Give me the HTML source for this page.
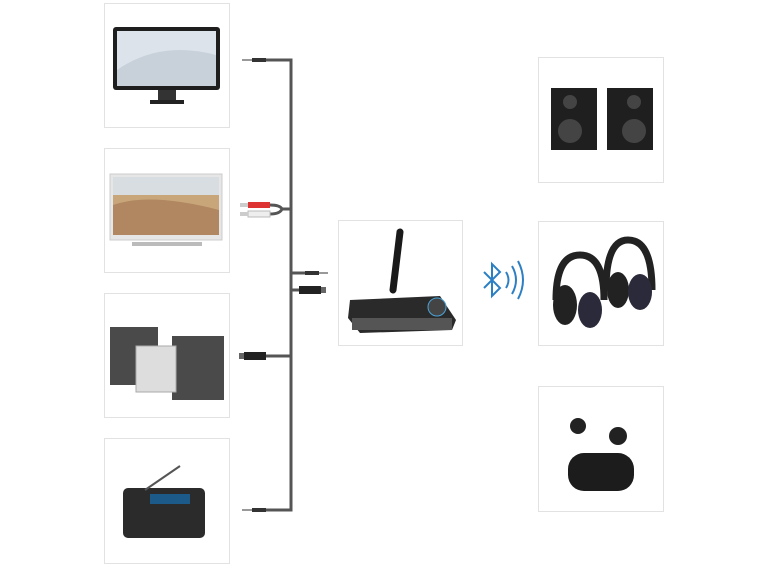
<!DOCTYPE html>
<html><head><meta charset="utf-8"><style>
html,body{margin:0;padding:0;background:#fff;width:765px;height:574px;overflow:hidden}
</style></head><body>
<svg width="765" height="574" viewBox="0 0 765 574" xmlns="http://www.w3.org/2000/svg">
<g fill="#fff" stroke="#e2e2e2" stroke-width="1">
<rect x="104.5" y="3.5" width="125" height="124"/>
<rect x="104.5" y="148.5" width="125" height="124"/>
<rect x="104.5" y="293.5" width="125" height="124"/>
<rect x="104.5" y="438.5" width="125" height="125"/>
<rect x="338.5" y="220.5" width="124" height="125"/>
<rect x="538.5" y="57.5" width="125" height="125"/>
<rect x="538.5" y="221.5" width="125" height="124"/>
<rect x="538.5" y="386.5" width="125" height="125"/>
</g>
<!-- monitor -->
<rect x="113" y="27" width="107" height="63" rx="3" fill="#1e1e1e"/>
<rect x="117" y="31" width="99" height="55" fill="#dde3ea"/>
<path d="M117 70 Q160 40 216 55 L216 86 L117 86Z" fill="#c8d0da"/>
<rect x="158" y="90" width="18" height="10" fill="#333"/>
<rect x="150" y="100" width="34" height="4" fill="#222"/>
<!-- TV -->
<rect x="110" y="174" width="112" height="66" fill="#e6e6e6" stroke="#ccc"/>
<rect x="113" y="177" width="106" height="58" fill="#c9a57a"/>
<rect x="113" y="177" width="106" height="18" fill="#d8dde2"/>
<path d="M113 205 Q150 192 219 210 L219 235 L113 235Z" fill="#b08760"/>
<rect x="132" y="242" width="70" height="4" fill="#bbb"/>
<!-- stereo -->
<rect x="110" y="327" width="48" height="58" fill="#4a4a4a"/>
<rect x="172" y="336" width="52" height="64" fill="#4a4a4a"/>
<rect x="136" y="346" width="40" height="46" fill="#ddd" stroke="#aaa"/>
<!-- radio -->
<rect x="123" y="488" width="82" height="50" rx="5" fill="#2b2b2b"/>
<rect x="150" y="494" width="40" height="10" fill="#1c5a8a"/>
<line x1="145" y1="490" x2="180" y2="466" stroke="#555" stroke-width="2"/>
<!-- transmitter -->
<line x1="393" y1="290" x2="400" y2="232" stroke="#1a1a1a" stroke-width="7" stroke-linecap="round"/>
<path d="M350 300 L440 296 L456 320 L452 330 L360 333 L348 318Z" fill="#2a2a2a"/>
<rect x="352" y="318" width="100" height="12" fill="#555"/>
<circle cx="437" cy="307" r="9" fill="#444" stroke="#4aa3d8"/>
<!-- bluetooth -->
<g stroke="#2d7fc4" stroke-width="2" fill="none">
<path d="M484 272 L500 288 L492 296 L492 264 L500 272 L484 288"/>
<path d="M506 272 Q511 280 506 288"/>
<path d="M512 266 Q520 280 512 294"/>
<path d="M518 261 Q528 280 518 299"/>
</g>
<!-- speakers -->
<rect x="551" y="88" width="46" height="62" fill="#1f1f1f"/>
<rect x="607" y="88" width="46" height="62" fill="#1f1f1f"/>
<circle cx="570" cy="102" r="7" fill="#444"/><circle cx="570" cy="131" r="12" fill="#444"/>
<circle cx="634" cy="102" r="7" fill="#444"/><circle cx="634" cy="131" r="12" fill="#444"/>
<!-- headphones -->
<g fill="none" stroke="#222" stroke-width="7">
<path d="M556 300 Q556 255 580 255 Q604 255 604 300"/>
<path d="M606 290 Q606 240 628 240 Q652 240 652 290"/>
</g>
<ellipse cx="565" cy="305" rx="12" ry="20" fill="#222"/>
<ellipse cx="590" cy="310" rx="12" ry="18" fill="#2a2a3a"/>
<ellipse cx="618" cy="290" rx="11" ry="18" fill="#222"/>
<ellipse cx="640" cy="292" rx="12" ry="18" fill="#2a2a3a"/>
<!-- earbuds -->
<circle cx="578" cy="426" r="8" fill="#222"/>
<circle cx="618" cy="436" r="9" fill="#222"/>
<rect x="568" y="453" width="66" height="38" rx="16" fill="#1c1c1c"/>
<!-- cables -->
<g stroke="#555" stroke-width="3" fill="none">
<path d="M262 60 H291 V510 H262"/>
<path d="M270 205 Q280 205 282 209 H291 M270 214 Q280 214 282 209"/>
<path d="M291 273 H305"/>
<path d="M291 290 H300"/>
<path d="M291 356 H262"/>
</g>
<g>
<rect x="252" y="58" width="14" height="4" fill="#333"/><line x1="242" y1="60" x2="252" y2="60" stroke="#999" stroke-width="2"/>
<rect x="252" y="508" width="14" height="4" fill="#333"/><line x1="242" y1="510" x2="252" y2="510" stroke="#999" stroke-width="2"/>
<rect x="248" y="202" width="22" height="6" fill="#d33"/><rect x="240" y="203" width="8" height="4" fill="#ccc"/>
<rect x="248" y="211" width="22" height="6" fill="#eee" stroke="#bbb"/><rect x="240" y="212" width="8" height="4" fill="#ccc"/>
<rect x="305" y="271" width="14" height="4" fill="#333"/><line x1="319" y1="273" x2="328" y2="273" stroke="#999" stroke-width="2"/>
<rect x="299" y="286" width="22" height="8" fill="#222"/><rect x="321" y="287" width="5" height="6" fill="#666"/>
<rect x="244" y="352" width="22" height="8" fill="#222"/><rect x="239" y="353" width="5" height="6" fill="#666"/>
</g>
</svg>
</body></html>
